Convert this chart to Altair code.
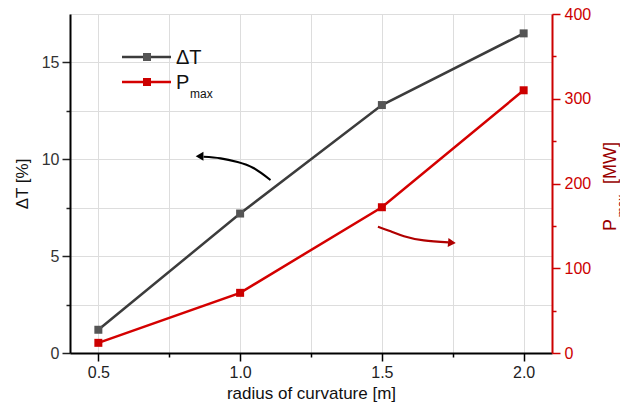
import altair as alt
import pandas as pd

# ---- data ----
radius = [0.5, 1.0, 1.5, 2.0]
delta_t = [1.2, 7.2, 12.8, 16.5]
p_max = [12, 71, 172, 310]

x_ticks = [0.5, 0.75, 1.0, 1.25, 1.5, 1.75, 2.0]
left_ticks = [0, 2.5, 5, 7.5, 10, 12.5, 15]
right_ticks = [0, 50, 100, 150, 200, 250, 300, 350, 400]

# annotation arrows (in radius / ΔT data units)
black_arrow_x = [1.107, 1.047, 0.991, 0.931, 0.871]
black_arrow_y = [8.93, 9.55, 9.86, 10.05, 10.13]
black_head = {"x": [0.857], "y": [10.16]}
red_arrow_x = [1.486, 1.531, 1.578, 1.648, 1.735]
red_arrow_y = [6.52, 6.28, 6.03, 5.81, 5.71]
red_head = {"x": [1.747], "y": [5.69]}

FONT = "Liberation Sans"
DT_LINE = "#3c3c3c"
DT_MARK = "#555555"
P_LINE = "#d40000"
P_MARK = "#cc0000"
RIGHT_AX = "#cc0000"
RIGHT_TITLE = "#990000"

W, H = 482, 339

df = pd.DataFrame({"radius": radius, "dT": delta_t, "P": p_max})

x_axis = alt.Axis(
    values=x_ticks, format=".1f", title="radius of curvature [m]",
    labelExpr="abs(datum.value*2 - round(datum.value*2)) > 0.01 ? '' : datum.label",
    tickSize={"condition": {"test": "abs(datum.value*2 - round(datum.value*2)) > 0.01", "value": 4}, "value": 8},
    domainColor="black", domainWidth=2, tickColor="black", tickWidth=1.5,
    labelColor="#222222", labelFontSize=16, labelPadding=3,
    titleFontSize=17, titleFontWeight="normal", titleColor="#111111", titlePadding=5,
)
x_scale = alt.Scale(domain=[0.4, 2.1], nice=False, zero=False)

left_axis = alt.Axis(
    values=left_ticks, format=".0f", title="ΔT [%]", orient="left",
    labelExpr="datum.value % 5 != 0 ? '' : datum.label",
    tickSize={"condition": {"test": "datum.value % 5 != 0", "value": 4}, "value": 8},
    domainColor="black", domainWidth=2, tickColor="#222222", tickWidth=1.5,
    labelColor="#333333", labelFontSize=16, labelPadding=3,
    titleFontSize=17, titleFontWeight="normal", titleColor="#111111", titlePadding=10,
)
left_scale = alt.Scale(domain=[0, 17.5], nice=False)

right_axis = alt.Axis(
    values=right_ticks, format=".0f", title=None, orient="right",
    labelExpr="datum.value % 100 != 0 ? '' : datum.label",
    tickSize={"condition": {"test": "datum.value % 100 != 0", "value": 4}, "value": 8},
    domainColor=RIGHT_AX, domainWidth=2, tickColor=RIGHT_AX, tickWidth=1.5,
    labelColor=RIGHT_AX, labelFontSize=16, labelPadding=4,
)
right_scale = alt.Scale(domain=[0, 400], nice=False)

base = alt.Chart(df)
xe = alt.X("radius:Q", scale=x_scale, axis=x_axis)

dt_line = base.mark_line(color=DT_LINE, strokeWidth=2.5).encode(
    x=xe, y=alt.Y("dT:Q", scale=left_scale, axis=left_axis))
dt_pts = base.mark_point(shape="square", filled=True, size=64, color=DT_MARK, opacity=1).encode(
    x=xe, y=alt.Y("dT:Q", scale=left_scale, axis=left_axis))

ba = pd.DataFrame({"radius": black_arrow_x, "dT": black_arrow_y})
ra = pd.DataFrame({"radius": red_arrow_x, "dT": red_arrow_y})
bh = pd.DataFrame({"radius": black_head["x"], "dT": black_head["y"]})
rh = pd.DataFrame({"radius": red_head["x"], "dT": red_head["y"]})

ye = alt.Y("dT:Q", scale=left_scale, axis=left_axis)
black_arrow = alt.Chart(ba).mark_line(color="black", strokeWidth=2.2, interpolate="natural").encode(x=xe, y=ye)
red_arrow = alt.Chart(ra).mark_line(color="#b00000", strokeWidth=2.2, interpolate="natural").encode(x=xe, y=ye)
black_hd = alt.Chart(bh).mark_point(
    shape="triangle-left", filled=True, size=80, color="black", opacity=1, strokeWidth=0
).encode(x=xe, y=ye)
red_hd = alt.Chart(rh).mark_point(
    shape="triangle-right", filled=True, size=80, color="#b00000", opacity=1, angle=5, strokeWidth=0
).encode(x=xe, y=ye)

p_line = base.mark_line(color=P_LINE, strokeWidth=2.5).encode(
    x=xe, y=alt.Y("P:Q", scale=right_scale, axis=right_axis))
p_pts = base.mark_point(shape="square", filled=True, size=64, color=P_MARK, opacity=1).encode(
    x=xe, y=alt.Y("P:Q", scale=right_scale, axis=right_axis))

# ---- manual legend and right-axis title ----
one = alt.Chart(pd.DataFrame({"k": [0]}))

leg_dt_line = one.mark_rule(color=DT_LINE, strokeWidth=2.5).encode(
    x=alt.value(52), x2=alt.value(101), y=alt.value(43))
leg_dt_pt = one.mark_point(shape="square", filled=True, size=64, color=DT_MARK, opacity=1).encode(
    x=alt.value(77), y=alt.value(43))
leg_dt_txt = one.mark_text(text="ΔT", font=FONT, fontSize=20, align="left", baseline="alphabetic",
                           color="#111111").encode(x=alt.value(106), y=alt.value(50))
leg_p_line = one.mark_rule(color=P_LINE, strokeWidth=2.5).encode(
    x=alt.value(52), x2=alt.value(101), y=alt.value(68))
leg_p_pt = one.mark_point(shape="square", filled=True, size=64, color=P_MARK, opacity=1).encode(
    x=alt.value(77), y=alt.value(68))
leg_p_txt = one.mark_text(text="P", font=FONT, fontSize=20, align="left", baseline="alphabetic",
                          color="#111111").encode(x=alt.value(106), y=alt.value(75))
leg_p_sub = one.mark_text(text="max", font=FONT, fontSize=12, align="left", baseline="alphabetic",
                          color="#111111").encode(x=alt.value(120), y=alt.value(84))

rt_p = one.mark_text(text="P", font=FONT, fontSize=18, angle=270, align="center", baseline="middle",
                     color=RIGHT_TITLE).encode(x=alt.value(541), y=alt.value(211))
rt_sub = one.mark_text(text="max", font=FONT, fontSize=12, angle=270, align="center", baseline="middle",
                       color=RIGHT_TITLE).encode(x=alt.value(552), y=alt.value(192))
rt_mw = one.mark_text(text="[MW]", font=FONT, fontSize=18, angle=270, align="center", baseline="middle",
                      color=RIGHT_TITLE).encode(x=alt.value(541), y=alt.value(149))

layer_left = alt.layer(black_arrow, red_arrow, black_hd, red_hd, dt_line, dt_pts,
                       leg_dt_line, leg_dt_pt, leg_dt_txt, leg_p_line, leg_p_pt, leg_p_txt, leg_p_sub,
                       rt_p, rt_sub, rt_mw)
layer_right = alt.layer(p_line, p_pts)

chart = alt.layer(layer_left, layer_right).resolve_scale(y="independent").properties(
    width=W, height=H,
    autosize=alt.AutoSizeParams(type="none"),
    padding={"left": 70, "top": 14, "right": 68, "bottom": 57},
).configure_view(stroke="black", strokeWidth=2).configure_axis(
    grid=False, labelFont=FONT, titleFont=FONT
).configure(background="white")

chart.save("out.html", embed_options={"renderer": "svg", "actions": False})
